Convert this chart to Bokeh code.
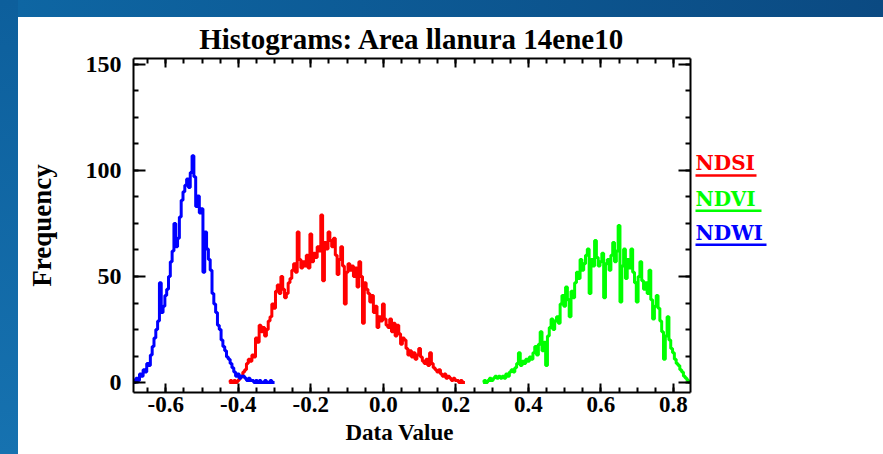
import numpy as np
from bokeh.plotting import figure
from bokeh.models import Range1d, LinearAxis, FixedTicker, Spacer, Title
from bokeh.layouts import row, column
from bokeh.core.properties import value
from bokeh.embed import file_html
from bokeh.resources import INLINE

# ---------------- data (histogram counts, bin width 0.005) ----------------
bin_width = 0.005

ndsi_start = -0.425
ndsi_counts = [0, 1, 0, 1, 0, 1, 2, 3, 5, 6, 9, 11, 10, 13, 12, 21, 19, 27, 24, 26,
               22, 25, 29, 31, 37, 35, 43, 46, 42, 50, 44, 40, 42, 47, 49, 53, 56, 52, 71, 58,
               54, 57, 55, 60, 54, 70, 57, 61, 59, 64, 62, 79, 48, 66, 63, 71, 67, 64, 68, 60,
               51, 58, 64, 55, 37, 52, 56, 53, 55, 50, 54, 45, 57, 50, 28, 47, 44, 42, 38, 41,
               33, 36, 26, 31, 29, 37, 30, 27, 26, 30, 24, 28, 22, 27, 23, 18, 21, 20, 16, 13,
               15, 12, 14, 11, 13, 16, 12, 10, 9, 11, 8, 14, 9, 7, 6, 5, 6, 4, 3, 4,
               2, 3, 2, 1, 2, 1, 1, 0, 1, 0, 0]

ndvi_start = 0.275
ndvi_counts = [0, 1, 0, 1, 2, 1, 2, 3, 2, 3, 2, 3, 2, 4, 3, 5, 6, 5, 7, 9,
               14, 8, 10, 9, 11, 10, 12, 11, 14, 17, 13, 18, 24, 15, 19, 8, 22, 26, 30, 25,
               29, 31, 28, 37, 41, 36, 45, 39, 31, 43, 40, 47, 52, 49, 58, 53, 56, 60, 63, 42,
               58, 55, 67, 59, 55, 57, 61, 40, 56, 58, 53, 60, 66, 57, 62, 74, 38, 55, 63, 49,
               58, 54, 63, 52, 47, 38, 50, 57, 48, 44, 47, 42, 53, 39, 30, 36, 41, 35, 29, 24,
               11, 22, 31, 20, 16, 14, 11, 9, 8, 6, 5, 3, 2, 1, 0]

ndwi_start = -0.690
ndwi_counts = [1, 0, 2, 1, 4, 3, 6, 5, 9, 8, 13, 17, 21, 25, 29, 47, 33, 36, 41, 44,
               50, 57, 62, 75, 64, 68, 78, 86, 90, 93, 96, 92, 99, 107, 97, 83, 88, 80, 82, 52,
               71, 63, 58, 53, 42, 37, 33, 27, 25, 20, 17, 15, 12, 11, 9, 7, 5, 3, 4, 2,
               3, 3, 2, 1, 2, 1, 1, 0, 1, 0, 1, 0, 0, 1, 0, 0, 1, 0, 0]

series_names = ["NDSI", "NDVI", "NDWI"]
series_colors = ["#ff0000", "#00ff00", "#0000ff"]

x_ticks = [-0.6, -0.4, -0.2, 0.0, 0.2, 0.4, 0.6, 0.8]
x_tick_labels = ["-0.6", "-0.4", "-0.2", "0.0", "0.2", "0.4", "0.6", "0.8"]
x_minor_ticks = [round(-0.65 + 0.05 * i, 2) for i in range(30)]
y_ticks = [0, 50, 100, 150]
y_tick_labels = ["0", "50", "100", "150"]
y_minor_ticks = [12.5 * i for i in range(13)]

title_text = "Histograms: Area llanura 14ene10"
x_label = "Data Value"
y_label = "Frequency"

# ---------------- main figure ----------------
SERIF = "Liberation Serif"

p = figure(width=674, height=437,
           x_range=Range1d(-0.689, 0.847), y_range=Range1d(-4.7, 152.8),
           output_backend="svg", toolbar_location=None,
           min_border_left=115, min_border_right=2,
           min_border_top=40, min_border_bottom=62,
           x_axis_location=None, y_axis_location=None)
p.background_fill_color = "white"
p.border_fill_color = "white"
p.outline_line_color = None
p.xgrid.visible = False
p.ygrid.visible = False

p.title.text = title_text
p.title.align = "center"
p.title.text_font = SERIF
p.title.text_font_style = "bold"
p.title.text_font_size = "29px"
p.title.text_color = "black"
p.title.standoff = 7


def style_axis(ax, ticks, minor, labels, show, tick_in, minor_in, standoff, size):
    ax.ticker = FixedTicker(ticks=ticks, minor_ticks=minor)
    ax.major_label_overrides = {t: l for t, l in zip(ticks, labels)}
    ax.axis_line_color = "black"
    ax.axis_line_width = 2
    ax.major_tick_line_color = "black"
    ax.major_tick_line_width = 2
    ax.minor_tick_line_color = "black"
    ax.minor_tick_line_width = 2
    ax.major_tick_in = tick_in
    ax.major_tick_out = 0
    ax.minor_tick_in = minor_in
    ax.minor_tick_out = 0
    ax.major_label_text_font = SERIF
    ax.major_label_text_font_style = "bold"
    ax.major_label_standoff = standoff
    if show:
        ax.major_label_text_font_size = size
        ax.major_label_text_color = "black"
    else:
        ax.major_label_text_font_size = "1px"
        ax.major_label_text_color = None


xb = LinearAxis(); style_axis(xb, x_ticks, x_minor_ticks, x_tick_labels, True, 9, 5, 4, "23px")
xt = LinearAxis(); style_axis(xt, x_ticks, x_minor_ticks, x_tick_labels, False, 9, 5, 0, "1px")
yl = LinearAxis(); style_axis(yl, y_ticks, y_minor_ticks, y_tick_labels, True, 12, 5, 12, "24px")
yr = LinearAxis(); style_axis(yr, y_ticks, y_minor_ticks, y_tick_labels, False, 12, 5, 0, "1px")

yl.axis_label = y_label
yl.axis_label_standoff = 26
yl.axis_label_text_font = SERIF
yl.axis_label_text_font_style = "bold"
yl.axis_label_text_font_size = "27px"
yl.axis_label_text_color = "black"

p.add_layout(xb, "below")
p.add_layout(xt, "above")
p.add_layout(yl, "left")
p.add_layout(yr, "right")

# x-axis title (slightly left of centre, as in the original)
p.add_layout(Title(text=x_label, align="left", offset=212, standoff=7,
                   text_font=SERIF, text_font_style="bold", text_font_size="23px",
                   text_color="black"), "below")

# histograms (drawn as steps)
all_counts = [ndsi_counts, ndvi_counts, ndwi_counts]
all_starts = [ndsi_start, ndvi_start, ndwi_start]
for counts, start, color in zip(all_counts, all_starts, series_colors):
    xs = start + bin_width * np.arange(len(counts))
    p.step(xs, counts, mode="center", line_color=color, line_width=3)

# ---------------- legend panel (page-pixel coordinates, y downward) ----------------
leg = figure(width=191, height=437, x_range=Range1d(692, 883), y_range=Range1d(392, 57),
             output_backend="svg", toolbar_location=None, title=None,
             min_border_left=0, min_border_right=0, min_border_top=40, min_border_bottom=62,
             x_axis_location=None, y_axis_location=None)
leg.outline_line_color = None
leg.xgrid.visible = False
leg.ygrid.visible = False
leg.background_fill_color = "white"
leg.border_fill_color = "white"

leg_x = [695, 695, 695]
leg_mid = [162.1, 198.1, 232.1]
leg_underline_y = [174.3, 209.7, 243.7]
leg_underline_len = [61, 66, 71]

leg.text(x=leg_x, y=leg_mid, text=series_names, text_color=series_colors,
         text_font=value("DejaVu Serif"), text_font_style=value("bold"),
         text_font_size=value("20px"), text_baseline=value("middle"),
         text_align=value("left"))
leg.segment(x0=leg_x, y0=leg_underline_y,
            x1=[a + b for a, b in zip(leg_x, leg_underline_len)], y1=leg_underline_y,
            line_color=series_colors, line_width=2.5)

# ---------------- blue decorative frame ----------------
left_strip = Spacer(width=18, height=454,
                    styles={"background": "linear-gradient(to bottom, #0d5f9c, #1672b0)"})
top_strip = Spacer(width=865, height=17,
                   styles={"background": "linear-gradient(to right, #0e66a3, #0b4a82)"})

layout = row(left_strip, column(top_strip, row(p, leg)))

open("out.html", "w").write(file_html(layout, INLINE))
